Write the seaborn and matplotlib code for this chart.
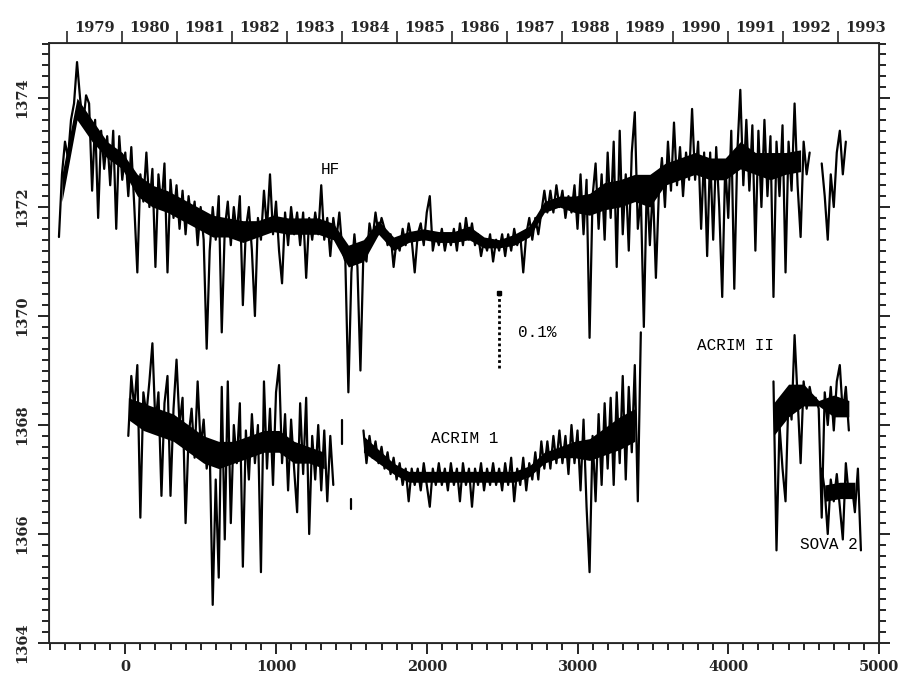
import numpy as np
import pandas as pd
import seaborn as sns
import matplotlib.pyplot as plt
from matplotlib.ticker import MultipleLocator

# days since start of record, sampled every 20 days
hf_days = np.arange(-440, 4560, 20)
hf_vals = [
    1371.45, 1372.6, 1373.2, 1372.9, 1373.6, 1373.9, 1374.66, 1374.0, 1373.5, 1374.05,
    1373.9, 1372.3, 1373.6, 1371.8, 1373.4, 1372.7, 1373.3, 1372.4, 1373.4, 1371.6,
    1373.3, 1372.5, 1373.0, 1372.2, 1373.1, 1372.0, 1370.8, 1372.6, 1372.1, 1373.0,
    1372.0, 1372.7, 1370.9, 1372.6, 1372.0, 1372.8, 1370.8, 1372.5, 1371.8, 1372.4,
    1371.6, 1372.3, 1371.5, 1372.2, 1371.7, 1372.1, 1371.3, 1372.0, 1371.4, 1369.4,
    1371.2, 1372.0, 1371.4, 1372.2, 1369.7, 1371.6, 1372.1, 1371.3, 1372.0, 1371.5,
    1372.2, 1370.2, 1371.6, 1372.0, 1371.2, 1370.0, 1371.8, 1371.4, 1372.3, 1371.6,
    1372.6, 1371.5, 1372.1, 1371.2, 1370.6, 1371.9, 1371.3, 1372.0, 1371.5, 1371.9,
    1371.3, 1371.9, 1370.7, 1371.8, 1371.4, 1371.9, 1371.5, 1372.4, 1371.4, 1371.8,
    1371.1, 1371.8, 1371.4, 1371.9, 1371.2, 1371.0, 1368.6, 1370.8, 1371.5, 1370.9,
    1369.0, 1371.2, 1371.0, 1371.7, 1371.4, 1371.9, 1371.5, 1371.8, 1371.6, 1371.3,
    1371.5, 1370.9, 1371.4, 1371.2, 1371.6, 1371.3, 1371.7, 1371.4, 1370.8, 1371.5,
    1371.7, 1371.3, 1371.9, 1372.2, 1371.2, 1371.5, 1371.3, 1371.6, 1371.2, 1371.5,
    1371.3, 1371.6, 1371.2, 1371.7, 1371.3, 1371.8, 1371.4, 1371.7, 1371.3, 1371.5,
    1371.1, 1371.4, 1371.2, 1371.5, 1371.0, 1371.4, 1371.2, 1371.5, 1371.1, 1371.5,
    1371.2, 1371.6, 1371.3, 1371.5, 1370.8, 1371.5, 1371.8, 1371.4, 1371.8, 1371.5,
    1371.9, 1372.3, 1371.9, 1372.3, 1371.9, 1372.4, 1372.0, 1372.3, 1371.8, 1372.2,
    1371.9, 1372.4, 1371.6, 1372.6, 1371.5, 1372.5, 1369.6, 1372.2, 1372.8, 1371.6,
    1372.6, 1371.4, 1373.0, 1371.8, 1373.2, 1370.9, 1373.4, 1371.5, 1372.6, 1371.2,
    1373.0, 1373.74, 1371.6, 1372.2, 1369.8, 1372.5, 1371.3, 1372.4, 1370.7, 1372.3,
    1372.9, 1372.0, 1373.2, 1372.3, 1373.55, 1372.4, 1373.1, 1372.2, 1373.0, 1372.5,
    1373.8, 1372.5, 1373.2, 1371.6, 1373.0, 1371.1, 1373.0, 1371.4, 1373.1, 1372.0,
    1370.35, 1372.8, 1371.8, 1373.4, 1370.5, 1373.0, 1374.15, 1372.4, 1373.6, 1372.3,
    1373.5, 1371.2, 1373.4, 1372.0, 1373.6, 1372.2, 1373.3, 1370.35, 1373.2, 1372.2,
    1373.5, 1370.8, 1373.2, 1372.3, 1373.9, 1372.4, 1371.45, 1373.2, 1372.6, 1373.0,
]
hf_tail_days = np.arange(4620, 4800, 20)
hf_tail_vals = [1372.8, 1372.2, 1371.4, 1372.6, 1372.0, 1373.0, 1373.4, 1372.6, 1373.2]

# densest core of the daily scatter, read every 100 days
hf_band_days = np.arange(-420, 4500, 100)
hf_band_lo = [
    1372.1, 1373.6, 1373.2, 1372.9, 1372.7, 1372.2, 1372.0, 1371.9, 1371.75, 1371.6,
    1371.45, 1371.45, 1371.35, 1371.45, 1371.55, 1371.5, 1371.5, 1371.5, 1371.4, 1370.9,
    1371.0, 1371.5, 1371.2, 1371.35, 1371.4, 1371.35, 1371.35, 1371.4, 1371.25, 1371.25,
    1371.3, 1371.45, 1371.9, 1372.0, 1371.9, 1371.85, 1371.95, 1372.0, 1372.1, 1372.0,
    1372.4, 1372.5, 1372.6, 1372.5, 1372.5, 1372.7, 1372.6, 1372.5, 1372.6, 1372.65,
]
hf_band_hi = [
    1372.6, 1374.0, 1373.6, 1373.2, 1373.0, 1372.6, 1372.4, 1372.3, 1372.15, 1372.0,
    1371.85, 1371.8, 1371.75, 1371.75, 1371.85, 1371.8, 1371.8, 1371.8, 1371.7, 1371.3,
    1371.4, 1371.75, 1371.45, 1371.55, 1371.6, 1371.55, 1371.55, 1371.65, 1371.45, 1371.4,
    1371.5, 1371.65, 1372.1, 1372.2, 1372.2, 1372.25, 1372.45, 1372.5, 1372.6, 1372.6,
    1372.8, 1372.9, 1373.0, 1372.9, 1372.9, 1373.2, 1373.0, 1373.0, 1373.0, 1373.05,
]

acrim1a_days = np.arange(20, 1400, 20)
acrim1a_vals = [
    1367.8, 1368.9, 1368.3, 1369.1, 1366.3, 1368.6, 1368.2, 1368.8, 1369.5, 1368.0,
    1368.6, 1366.7, 1368.4, 1368.9, 1366.7, 1368.3, 1369.2, 1368.0, 1368.5, 1366.2,
    1367.8, 1368.3, 1367.4, 1368.8, 1367.6, 1368.1, 1367.2, 1367.6, 1364.7, 1367.0,
    1365.2, 1368.7, 1365.9, 1368.8, 1366.2, 1368.0, 1367.3, 1368.4, 1365.4, 1367.9,
    1367.0, 1368.2, 1367.3, 1368.0, 1365.3, 1368.8, 1367.2, 1368.3, 1366.9, 1368.6,
    1369.1, 1367.3, 1368.2, 1366.8, 1368.1, 1367.2, 1366.4, 1368.4, 1367.1, 1368.5,
    1366.0, 1367.8, 1367.0, 1368.0, 1366.8, 1367.9, 1366.6, 1367.8, 1366.9,
]
acrim1a_band_days = np.arange(20, 1400, 100)
acrim1a_band_lo = [1368.1, 1367.9, 1367.8, 1367.7, 1367.5, 1367.3, 1367.2,
                   1367.3, 1367.4, 1367.5, 1367.5, 1367.3, 1367.3, 1367.2]
acrim1a_band_hi = [1368.5, 1368.4, 1368.3, 1368.2, 1368.0, 1367.8, 1367.7,
                   1367.7, 1367.8, 1367.9, 1367.9, 1367.7, 1367.6, 1367.5]

acrim1b_days = np.arange(1580, 3440, 20)
acrim1b_vals = [
    1367.9, 1367.3, 1367.8, 1367.4, 1367.7, 1367.3, 1367.6, 1367.2, 1367.5, 1367.1,
    1367.4, 1367.0, 1367.3, 1366.9, 1367.2, 1366.6, 1367.2, 1366.9, 1367.2, 1366.8,
    1367.3, 1366.9, 1366.5, 1367.2, 1366.9, 1367.3, 1366.9, 1367.2, 1366.8, 1367.3,
    1366.9, 1367.2, 1366.6, 1367.3, 1366.9, 1367.2, 1366.5, 1367.2, 1366.9, 1367.3,
    1366.8, 1367.2, 1366.9, 1367.3, 1366.9, 1367.2, 1366.8, 1367.3, 1366.9, 1367.4,
    1366.6, 1367.2, 1366.9, 1367.4, 1366.8, 1367.3, 1367.0, 1367.5, 1367.0, 1367.7,
    1367.2, 1367.7, 1367.2, 1367.8, 1367.3, 1367.9, 1367.3, 1367.8, 1367.1, 1368.0,
    1367.3, 1367.9, 1366.8, 1368.1, 1366.5, 1365.3, 1367.8, 1366.6, 1368.2, 1366.9,
    1368.4, 1367.2, 1368.5, 1366.9, 1368.6, 1367.3, 1368.9, 1367.0, 1368.7, 1367.5,
    1369.1, 1366.6, 1369.7,
]
acrim1b_band_days = np.arange(1580, 3400, 100)
acrim1b_band_lo = [1367.5, 1367.3, 1367.1, 1366.95, 1366.95, 1366.95, 1366.95, 1366.95,
                   1366.95, 1366.95, 1366.95, 1367.05, 1367.3, 1367.4, 1367.4, 1367.35,
                   1367.45, 1367.55, 1367.7]
acrim1b_band_hi = [1367.8, 1367.55, 1367.3, 1367.15, 1367.15, 1367.15, 1367.15, 1367.15,
                   1367.15, 1367.15, 1367.15, 1367.25, 1367.5, 1367.6, 1367.7, 1367.75,
                   1367.95, 1368.15, 1368.3]

# two short isolated ACRIM I pieces inside the 1984 gap
acrim1_bits_piece = [1, 1, 2, 2]
acrim1_bits_days = [1436, 1436, 1500, 1500]
acrim1_bits_vals = [1368.1, 1367.65, 1366.65, 1366.45]

acrim2_days = np.arange(4300, 4820, 20)
acrim2_vals = [
    1368.8, 1365.7, 1368.0, 1367.2, 1366.6, 1368.6, 1368.1, 1369.65, 1368.5, 1367.3,
    1368.8, 1368.3, 1368.7, 1368.4, 1368.5, 1368.3, 1366.3, 1368.6, 1368.0, 1368.7,
    1367.9, 1368.8, 1369.1, 1368.2, 1368.7, 1367.9,
]
acrim2_band_days = np.arange(4300, 4900, 100)
acrim2_band_lo = [1367.8, 1368.15, 1368.35, 1368.35, 1368.15, 1368.15]
acrim2_band_hi = [1368.4, 1368.75, 1368.75, 1368.45, 1368.55, 1368.45]

sova2_days = np.arange(4620, 4900, 20)
sova2_vals = [1367.2, 1366.8, 1366.0, 1367.0, 1366.6, 1367.1, 1366.5, 1365.9,
              1367.3, 1366.7, 1366.9, 1366.4, 1367.2, 1365.7]
sova2_band_days = np.arange(4640, 4900, 100)
sova2_band_lo = [1366.6, 1366.65, 1366.65]
sova2_band_hi = [1366.9, 1366.95, 1366.95]

# 0.1 % scale bar
bar_days = [2480, 2480]
bar_vals = [1369.05, 1370.42]

years = list(range(1979, 1994))
day_of_1980 = -22

sns.set_style('ticks')
plt.rcParams['font.family'] = ['DejaVu Serif']

fig = plt.figure(figsize=(9.06, 6.80), dpi=100)
ax = fig.add_axes([49 / 906, 37 / 680, 830 / 906, 600 / 680])

for bd, lo, hi in [(hf_band_days, hf_band_lo, hf_band_hi),
                   (acrim1a_band_days, acrim1a_band_lo, acrim1a_band_hi),
                   (acrim1b_band_days, acrim1b_band_lo, acrim1b_band_hi),
                   (acrim2_band_days, acrim2_band_lo, acrim2_band_hi),
                   (sova2_band_days, sova2_band_lo, sova2_band_hi)]:
    ax.fill_between(bd, lo, hi, color='black', linewidth=0)

kw = dict(color='black', linewidth=1.6, estimator=None, legend=False, ax=ax)
sns.lineplot(x=hf_days, y=hf_vals, **kw)
sns.lineplot(x=hf_tail_days, y=hf_tail_vals, **kw)
sns.lineplot(x=acrim1a_days, y=acrim1a_vals, **kw)
sns.lineplot(x=acrim1b_days, y=acrim1b_vals, **kw)
bits = pd.DataFrame({'piece': acrim1_bits_piece, 'day': acrim1_bits_days, 'val': acrim1_bits_vals})
sns.lineplot(data=bits, x='day', y='val', units='piece', sort=False, **kw)
sns.lineplot(x=acrim2_days, y=acrim2_vals, **kw)
sns.lineplot(x=sova2_days, y=sova2_vals, **kw)
sns.lineplot(x=bar_days, y=bar_vals, sort=False, linestyle=(0, (1, 1)), color='black',
             linewidth=2.0, estimator=None, legend=False, ax=ax)
ax.plot(bar_days[1], bar_vals[1], 's', color='black', markersize=3)

ax.set_xlim(-506, 5000)
ax.set_ylim(1364, 1375.01)
ax.set_xlabel('')
ax.set_ylabel('')

ax.xaxis.set_major_locator(MultipleLocator(1000))
ax.xaxis.set_minor_locator(MultipleLocator(100))
ax.yaxis.set_major_locator(MultipleLocator(2))
ax.yaxis.set_minor_locator(MultipleLocator(0.2))
ax.tick_params(which='both', direction='out', color='black', width=1.2,
               right=True, top=False)
ax.tick_params(which='major', length=8)
ax.tick_params(which='minor', length=5)
ax.tick_params(axis='x', which='major', pad=4, labelsize=10.5)
ax.tick_params(axis='y', which='major', pad=6, labelsize=10.5)
for lab in ax.get_xticklabels() + ax.get_yticklabels():
    lab.set_fontweight('bold')
for lab in ax.get_yticklabels():
    lab.set_rotation(90)
    lab.set_va('center')
for sp in ax.spines.values():
    sp.set_linewidth(1.3)
    sp.set_visible(True)

# top axis with calendar years
ax2 = ax.twiny()
ax2.set_xlim(ax.get_xlim())
year_starts = [day_of_1980 + (y - 1980) * 365.25 for y in years]
year_mids = [s + 182.6 for s in year_starts]
ax2.set_xticks(year_starts)
ax2.set_xticklabels([])
ax2.set_xticks(year_mids, minor=True)
ax2.set_xticklabels([str(y) for y in years], minor=True, fontweight='bold', fontsize=10.5)
ax2.tick_params(which='major', direction='out', length=9, width=1.2)
ax2.tick_params(which='minor', length=0, pad=6)

txt = dict(family='Liberation Mono', fontsize=11.5, color='black')
ax.text(1360, 1372.68, 'HF', ha='center', va='center', **txt)
ax.text(2250, 1367.75, 'ACRIM 1', ha='center', va='center', **txt)
ax.text(2730, 1369.7, '0.1%', ha='center', va='center', **txt)
ax.text(4050, 1369.45, 'ACRIM II', ha='center', va='center', **txt)
ax.text(4670, 1365.8, 'SOVA 2', ha='center', va='center', **txt)

fig.savefig('out.png', dpi=100)
